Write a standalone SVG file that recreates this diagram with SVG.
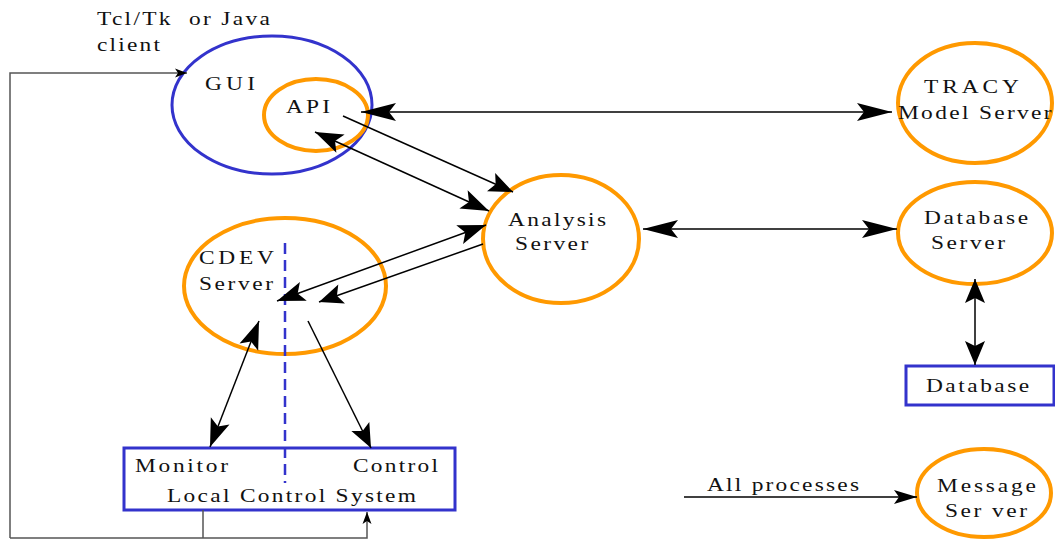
<svg xmlns="http://www.w3.org/2000/svg" width="1055" height="539" viewBox="0 0 1055 539" font-family="'Liberation Serif', 'Times New Roman', Times, serif">
<style>
text{font-size:19.5px;fill:#111}
.or{fill:none;stroke:#ff9900;stroke-width:4}
.bl{fill:none;stroke:#3333cc;stroke-width:3}
.ln{fill:none;stroke:#000;stroke-width:1.5}
.fb{fill:none;stroke:#555;stroke-width:1.5}
.ds{fill:none;stroke:#3333cc;stroke-width:2.5;stroke-dasharray:11 6}
</style>
<defs>
<marker id="mH" markerUnits="userSpaceOnUse" viewBox="-36 -12 38 24" markerWidth="38" markerHeight="24" refX="0" refY="0" orient="auto-start-reverse"><path d="M0,0 L-35,-9 L-28,0 L-35,9 Z" fill="#000"/></marker>
<marker id="mB" markerUnits="userSpaceOnUse" viewBox="-30 -12 32 24" markerWidth="32" markerHeight="24" refX="0" refY="0" orient="auto-start-reverse"><path d="M0,0 L-28,-10 L-22,0 L-28,10 Z" fill="#000"/></marker>
<marker id="mM" markerUnits="userSpaceOnUse" viewBox="-26 -12 28 24" markerWidth="28" markerHeight="24" refX="0" refY="0" orient="auto-start-reverse"><path d="M0,0 L-24,-10 L-19,0 L-24,10 Z" fill="#000"/></marker>
<marker id="mT" markerUnits="userSpaceOnUse" viewBox="-26 -10 28 20" markerWidth="28" markerHeight="20" refX="0" refY="0" orient="auto-start-reverse"><path d="M0,0 L-23,-7 L-18,0 L-23,7 Z" fill="#000"/></marker>
<marker id="mS" markerUnits="userSpaceOnUse" viewBox="-14 -6 16 12" markerWidth="16" markerHeight="12" refX="0" refY="0" orient="auto"><path d="M0,0 L-12,-4.5 L-9,0 L-12,4.5 Z" fill="#000"/></marker>
</defs>

<text transform="translate(97,25) scale(1.2,1)" textLength="144" xml:space="preserve">Tcl/Tk  or Java</text>
<text transform="translate(97,51) scale(1.2,1)" textLength="52.5">client</text>

<g id="gui">
<ellipse class="bl" cx="272" cy="105" rx="100" ry="69"/>
<text transform="translate(205,90) scale(1.2,1)" textLength="41.7">GUI</text>
</g>
<g id="api">
<ellipse class="or" cx="316" cy="115" rx="52" ry="36"/>
<text transform="translate(286,113) scale(1.2,1)" textLength="36.7">API</text>
</g>
<g id="tracy">
<ellipse class="or" cx="975" cy="103" rx="77" ry="60"/>
<text transform="translate(924,93) scale(1.2,1)" textLength="79">TRACY</text>
<text transform="translate(898,119) scale(1.2,1)" textLength="128">Model Server</text>
</g>
<g id="analysis">
<ellipse class="or" cx="561" cy="239" rx="78" ry="64"/>
<text transform="translate(508,226) scale(1.2,1)" textLength="81.7">Analysis</text>
<text transform="translate(515,250) scale(1.2,1)" textLength="61">Server</text>
</g>
<g id="dbserver">
<ellipse class="or" cx="975" cy="233" rx="77" ry="51"/>
<text transform="translate(924,224) scale(1.2,1)" textLength="86.7">Database</text>
<text transform="translate(931,249) scale(1.2,1)" textLength="61.7">Server</text>
</g>
<g id="database">
<rect class="bl" x="906" y="366" width="148" height="39"/>
<text transform="translate(926,392) scale(1.2,1)" textLength="86">Database</text>
</g>
<g id="message">
<ellipse class="or" cx="984" cy="493" rx="67" ry="44"/>
<text transform="translate(937,492) scale(1.2,1)" textLength="82.5">Message</text>
<text transform="translate(945,517) scale(1.2,1)" textLength="68.3" xml:space="preserve">Ser ver</text>
</g>
<g id="cdev">
<ellipse class="or" cx="285" cy="286" rx="101" ry="68"/>
<text transform="translate(199,264) scale(1.2,1)" textLength="62.5">CDEV</text>
<text transform="translate(199,290) scale(1.2,1)" textLength="61.7">Server</text>
</g>
<g id="lcs">
<rect class="bl" x="124" y="448" width="331" height="62"/>
<text transform="translate(135,472) scale(1.2,1)" textLength="77.5">Monitor</text>
<text transform="translate(353,472) scale(1.2,1)" textLength="70.8">Control</text>
<text transform="translate(167,502) scale(1.2,1)" textLength="207.5">Local Control System</text>
</g>
<line class="ds" x1="285" y1="243" x2="285" y2="483"/>

<g id="connectors">
<line class="ln" x1="361" y1="112" x2="892" y2="112" marker-start="url(#mH)" marker-end="url(#mH)"/>
<line class="ln" x1="643" y1="229" x2="897" y2="229" marker-start="url(#mH)" marker-end="url(#mH)"/>
<line class="ln" x1="975" y1="279" x2="975" y2="365" marker-start="url(#mM)" marker-end="url(#mM)"/>
<line class="ln" x1="684" y1="497" x2="917" y2="497" marker-end="url(#mT)"/>
<text transform="translate(707,491) scale(1.2,1)" textLength="126.7">All processes</text>
<line class="ln" x1="343" y1="116" x2="513" y2="192" marker-end="url(#mM)"/>
<line class="ln" x1="315" y1="132" x2="489" y2="211" marker-start="url(#mB)" marker-end="url(#mB)"/>
<line class="ln" x1="486" y1="225" x2="277" y2="301" marker-start="url(#mB)" marker-end="url(#mB)"/>
<line class="ln" x1="483" y1="244" x2="319" y2="302" marker-end="url(#mM)"/>
<line class="ln" x1="259" y1="321" x2="210" y2="447" marker-start="url(#mB)" marker-end="url(#mB)"/>
<line class="ln" x1="308" y1="321" x2="371" y2="448" marker-end="url(#mM)"/>
<path class="fb" d="M203,510 V538"/>
<path class="fb" d="M10,538 H367 V512" marker-end="url(#mS)"/>
<path class="fb" d="M10,538 V73 H187" marker-end="url(#mS)"/>
</g>
</svg>
